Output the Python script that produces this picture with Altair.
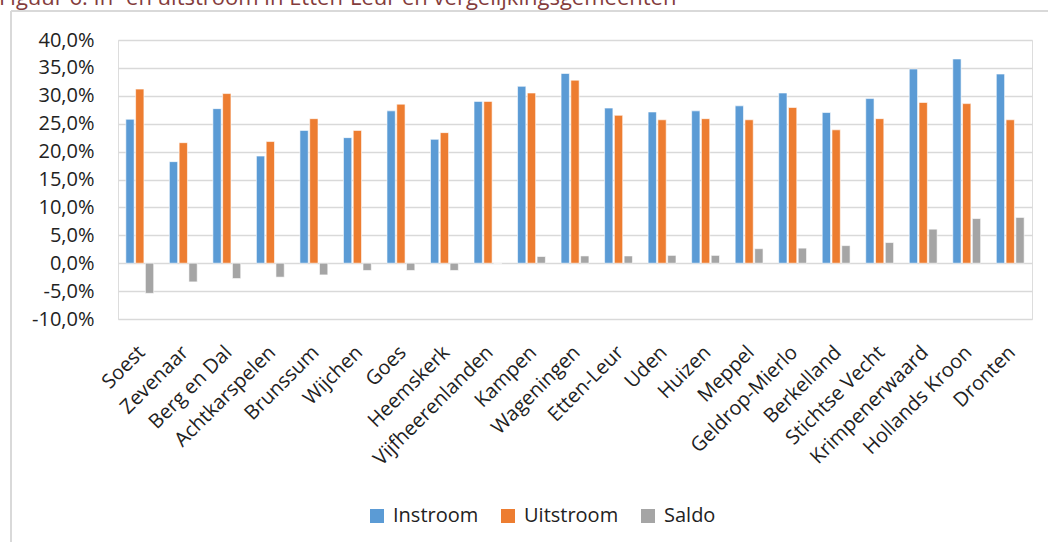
import altair as alt
import pandas as pd

gemeenten = ["Soest", "Zevenaar", "Berg en Dal", "Achtkarspelen", "Brunssum", "Wijchen",
             "Goes", "Heemskerk", "Vijfheerenlanden", "Kampen", "Wageningen", "Etten-Leur",
             "Uden", "Huizen", "Meppel", "Geldrop-Mierlo", "Berkelland", "Stichtse Vecht",
             "Krimpenerwaard", "Hollands Kroon", "Dronten"]
instroom = [25.8, 18.2, 27.7, 19.2, 23.8, 22.5, 27.3, 22.2, 29.0, 31.7, 34.0, 27.8,
            27.1, 27.3, 28.2, 30.5, 27.0, 29.5, 34.8, 36.6, 33.9]
uitstroom = [31.2, 21.6, 30.4, 21.8, 25.9, 23.8, 28.5, 23.4, 29.0, 30.5, 32.8, 26.5,
             25.7, 25.9, 25.7, 27.9, 23.9, 25.9, 28.8, 28.6, 25.7]
saldo = [-5.4, -3.35, -2.75, -2.5, -2.1, -1.3, -1.3, -1.3, 0.0, 1.2, 1.3, 1.3,
         1.4, 1.4, 2.6, 2.7, 3.15, 3.7, 6.1, 8.0, 8.2]
reeksen = ["Instroom", "Uitstroom", "Saldo"]
kleuren = ["#5B9BD5", "#ED7D31", "#A5A5A5"]
y_ticks = [-0.10, -0.05, 0.0, 0.05, 0.10, 0.15, 0.20, 0.25, 0.30, 0.35, 0.40]
titel = "Figuur 6: In- en uitstroom in Etten-Leur en vergelijkingsgemeenten"

rows = []
for i, g in enumerate(gemeenten):
    for naam, vals in zip(reeksen, [instroom, uitstroom, saldo]):
        rows.append({"gemeente": g, "reeks": naam, "waarde": vals[i] / 100})
df = pd.DataFrame(rows)

FONT = "Open Sans"
W, H = 914, 279
PL, PT = 118, 40
TOTAL_W, TOTAL_H = 1048, 542

bars = alt.Chart(df).mark_bar(stroke="white", strokeWidth=0.6).encode(
    x=alt.X("gemeente:N", sort=gemeenten,
            scale=alt.Scale(paddingInner=0.36, paddingOuter=0.18),
            axis=alt.Axis(title=None, labelAngle=-45, labelAlign="right",
                          labelBaseline="middle", labelPadding=30, labelOffset=2,
                          domain=False, ticks=False, grid=False, labelFontSize=20,
                          labelFont=FONT, labelColor="#222222")),
    xOffset=alt.XOffset("reeks:N", sort=reeksen,
                        scale=alt.Scale(paddingInner=0.15)),
    y=alt.Y("waarde:Q",
            scale=alt.Scale(domain=[-0.10, 0.40], nice=False, zero=False),
            axis=alt.Axis(title=None, values=y_ticks,
                          labelExpr="replace(replace(format(datum.value, '.1%'), '.', ','), '\u2212', '-')",
                          domain=False, ticks=False, labelPadding=24,
                          gridColor="#D9D9D9", gridWidth=1.5, labelFontSize=20,
                          labelFont=FONT, labelColor="#222222")),
    color=alt.Color("reeks:N", sort=reeksen,
                    scale=alt.Scale(domain=reeksen, range=kleuren),
                    legend=alt.Legend(title=None, orient="none", direction="horizontal",
                                      legendX=249, legendY=466, symbolType="square",
                                      symbolSize=196, symbolStrokeWidth=0,
                                      labelFontSize=20, labelOffset=6, columnPadding=19,
                                      labelFont=FONT, labelColor="#222222")),
)

border = pd.DataFrame({"a": [0]})
top_line = alt.Chart(border).mark_rule(color="#D9D9D9", strokeWidth=2).encode(
    x=alt.value(11 - PL), x2=alt.value(TOTAL_W + 20 - PL), y=alt.value(11 - PT)
)
left_line = alt.Chart(border).mark_rule(color="#D9D9D9", strokeWidth=2).encode(
    x=alt.value(11 - PL), y=alt.value(11 - PT), y2=alt.value(TOTAL_H + 20 - PT)
)
# white strip to the right of the plot area (Excel shows no frame there)
right_mask = alt.Chart(border).mark_rule(color="white", strokeWidth=6).encode(
    x=alt.value(W + 4), y=alt.value(-12), y2=alt.value(H + 12)
)

title_text = alt.Chart(pd.DataFrame({"t": [titel]})).mark_text(
    align="left", baseline="alphabetic", fontSize=22, font=FONT, color="#843C3C"
).encode(
    x=alt.value(-PL - 1), y=alt.value(5 - PT), text="t:N"
)

chart = alt.layer(top_line, left_line, bars, right_mask, title_text).properties(
    width=W, height=H,
    autosize=alt.AutoSizeParams(type="none"),
    padding={"left": PL, "top": PT, "right": TOTAL_W - PL - W, "bottom": TOTAL_H - PT - H},
).configure_view(strokeOpacity=0, strokeWidth=0).configure(background="white")

chart.save("out.html", embed_options={"renderer": "svg", "actions": False})
